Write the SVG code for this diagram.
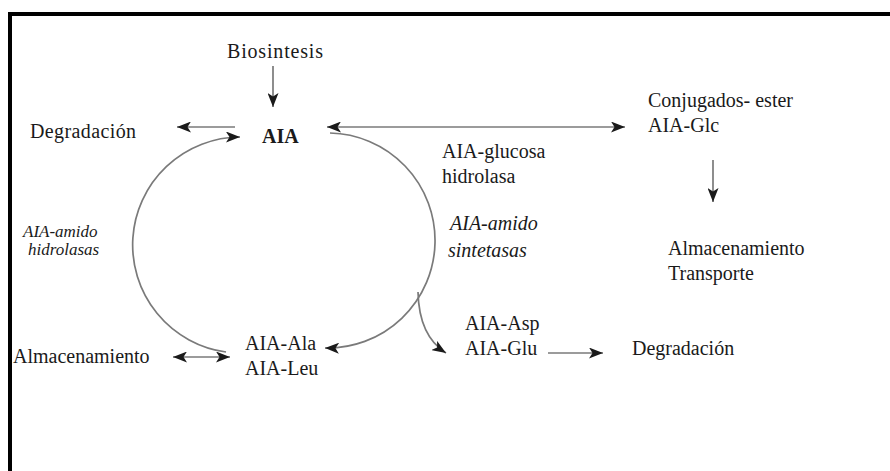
<svg xmlns="http://www.w3.org/2000/svg" width="890" height="471" viewBox="0 0 890 471">
<style>
.t{font-size:20px;fill:#1a1a1a}
.b{font-weight:bold}
.i{font-style:italic}
.s{font-size:17px}
.c{fill:none;stroke:#7a7a7a;stroke-width:1.7}
</style>
<defs>
<marker id="ah" markerUnits="userSpaceOnUse" markerWidth="15" markerHeight="11" refX="14" refY="5.5" orient="auto-start-reverse">
<path d="M0,0 L14,5.5 L0,11 L3.5,5.5 z" fill="#1a1a1a"/>
</marker>
</defs>
<rect x="0" y="0" width="890" height="471" fill="#fff"/>
<rect x="10" y="14" width="900" height="500" fill="none" stroke="#000" stroke-width="4"/>
<g id="connectors">
<path class="c" d="M273,66 L273,107" marker-end="url(#ah)"/>
<path class="c" d="M235,127 L177,127" marker-end="url(#ah)"/>
<path class="c" d="M327,127 L625,127" marker-start="url(#ah)" marker-end="url(#ah)"/>
<path class="c" d="M713,160 L713,202" marker-end="url(#ah)"/>
<path class="c" d="M173,357 L230,357" marker-start="url(#ah)" marker-end="url(#ah)"/>
<path class="c" d="M548,353 L603,353" marker-end="url(#ah)"/>
<path class="c" d="M226,352 A108,108 0 0 1 240,137" marker-end="url(#ah)"/>
<path class="c" d="M330,133 A107,107 0 0 1 325,348" marker-end="url(#ah)"/>
<path class="c" d="M418,292 Q419,336 446,353" marker-end="url(#ah)"/>
</g>
<g font-family="'Liberation Serif', 'DejaVu Serif', serif">
<g id="biosintesis"><text class="t" x="227" y="58" textLength="96">Biosintesis</text></g>
<g id="degradacion1"><text class="t" x="30" y="138" textLength="106">Degradación</text></g>
<g id="aia"><text class="t b" x="262" y="143">AIA</text></g>
<g id="conjugados"><text class="t" x="648" y="107">Conjugados- ester</text><text class="t" x="648" y="132">AIA-Glc</text></g>
<g id="glucosa-hidrolasa"><text class="t" x="442" y="158">AIA-glucosa</text><text class="t" x="442" y="183">hidrolasa</text></g>
<g id="amido-sintetasas"><text class="t i" x="450" y="230">AIA-amido</text><text class="t i" x="448" y="257">sintetasas</text></g>
<g id="almacenamiento-transporte"><text class="t" x="668" y="255">Almacenamiento</text><text class="t" x="668" y="280">Transporte</text></g>
<g id="amido-hidrolasas"><text class="t i s" x="23" y="237">AIA-amido</text><text class="t i s" x="28" y="255">hidrolasas</text></g>
<g id="almacenamiento"><text class="t" x="13" y="363">Almacenamiento</text></g>
<g id="ala-leu"><text class="t" x="245" y="350">AIA-Ala</text><text class="t" x="245" y="375">AIA-Leu</text></g>
<g id="asp-glu"><text class="t" x="465" y="330">AIA-Asp</text><text class="t" x="465" y="355">AIA-Glu</text></g>
<g id="degradacion2"><text class="t" x="632" y="355">Degradación</text></g>
</g>
</svg>
